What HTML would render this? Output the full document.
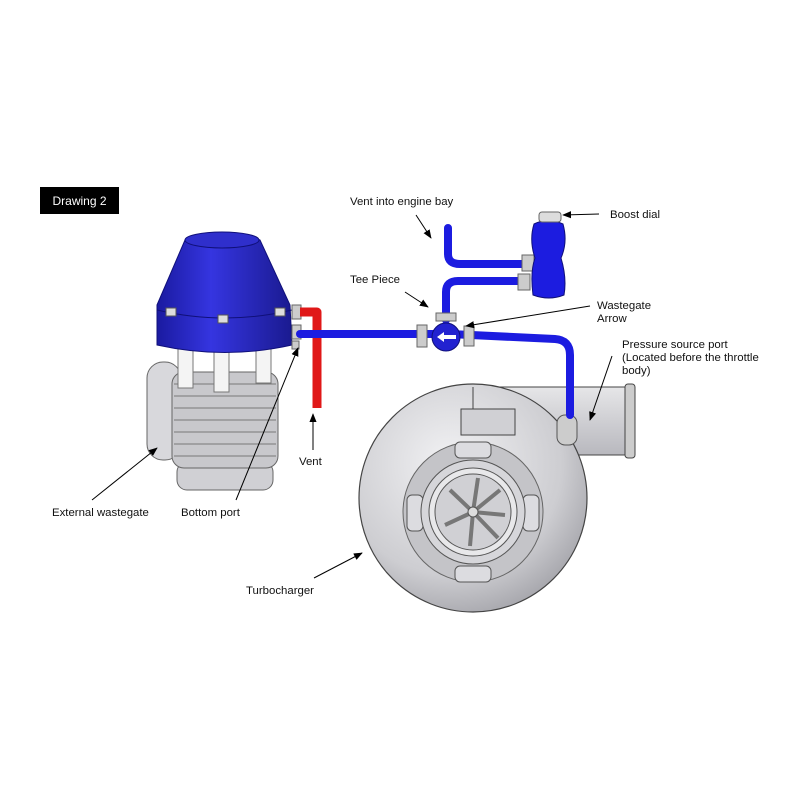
<!DOCTYPE html>
<html><head><meta charset="utf-8"><style>
html,body{margin:0;padding:0;background:#fff;}
svg{display:block;}
text{font-family:"Liberation Sans",Arial,sans-serif;font-size:11.4px;fill:#111;}
</style></head><body>
<svg width="800" height="800" viewBox="0 0 800 800" xmlns="http://www.w3.org/2000/svg">
<defs>
<radialGradient id="turbo" cx="0.4" cy="0.35" r="0.7">
<stop offset="0" stop-color="#f2f2f4"/><stop offset="0.7" stop-color="#cdcdd1"/><stop offset="1" stop-color="#a4a4aa"/>
</radialGradient>
<linearGradient id="blueg" x1="0" x2="1"><stop offset="0" stop-color="#1a1aa0"/><stop offset="0.4" stop-color="#3535e0"/><stop offset="1" stop-color="#1a1a90"/></linearGradient>
<linearGradient id="tube" x1="0" y1="0" x2="0" y2="1"><stop offset="0" stop-color="#e6e6e8"/><stop offset="1" stop-color="#b8b8be"/></linearGradient>
<marker id="ar" viewBox="0 0 10 10" refX="9" refY="5" markerWidth="9" markerHeight="9" orient="auto"><path d="M0,1 L10,5 L0,9 z" fill="#000"/></marker>
</defs>

<rect x="40" y="187" width="79" height="27" fill="#000"/>
<text x="79.5" y="205" text-anchor="middle" style="fill:#fff;font-size:12px">Drawing 2</text>

<rect x="470" y="387" width="160" height="68" fill="url(#tube)" stroke="#444" stroke-width="1"/>
<rect x="625" y="384" width="10" height="74" rx="3" fill="#ccc" stroke="#444"/>
<circle cx="473" cy="498" r="114" fill="url(#turbo)" stroke="#444" stroke-width="1.2"/>
<rect x="461" y="409" width="54" height="26" fill="#d0d0d4" stroke="#444"/>
<line x1="473" y1="387" x2="473" y2="409" stroke="#444"/>
<circle cx="473" cy="512" r="70" fill="#c4c4c8" stroke="#666"/>
<g fill="#dcdce0" stroke="#555">
<rect x="455" y="442" width="36" height="16" rx="5"/>
<rect x="455" y="566" width="36" height="16" rx="5"/>
<rect x="407" y="495" width="16" height="36" rx="5"/>
<rect x="523" y="495" width="16" height="36" rx="5"/>
</g>
<circle cx="473" cy="512" r="52" fill="#d6d6da" stroke="#555"/>
<circle cx="473" cy="512" r="44" fill="#e8e8ea" stroke="#555"/>
<circle cx="473" cy="512" r="38" fill="#d0d0d4" stroke="#555"/>
<g stroke="#777" stroke-width="4">
<line x1="473" y1="512" x2="500" y2="490"/><line x1="473" y1="512" x2="505" y2="515"/>
<line x1="473" y1="512" x2="450" y2="490"/><line x1="473" y1="512" x2="445" y2="525"/>
<line x1="473" y1="512" x2="478" y2="478"/><line x1="473" y1="512" x2="470" y2="546"/>
<line x1="473" y1="512" x2="498" y2="538"/>
</g>
<circle cx="473" cy="512" r="5" fill="#ddd" stroke="#555"/>
<rect x="557" y="415" width="20" height="30" rx="8" fill="#ccc" stroke="#555"/>

<!-- Wastegate -->
<rect x="147" y="362" width="34" height="98" rx="16" fill="#d8d8dc" stroke="#666"/>
<rect x="177" y="462" width="96" height="28" rx="10" fill="#d0d0d4" stroke="#666"/>
<rect x="172" y="372" width="106" height="96" rx="12" fill="#c8c8cc" stroke="#666"/>
<g stroke="#777" fill="none">
<path d="M174,384 H276 M174,396 H276 M174,408 H276 M174,420 H276 M174,432 H276 M174,444 H276 M174,456 H276"/>
</g>
<g fill="#f4f4f4" stroke="#777">
<rect x="178" y="348" width="15" height="40"/><rect x="214" y="352" width="15" height="40"/><rect x="256" y="348" width="15" height="35"/>
</g>
<path d="M157,305 L185,240 Q222,225 260,240 L290,305 L292,345 Q225,360 157,345 Z" fill="url(#blueg)" stroke="#10107a"/>
<path d="M157,310 Q225,326 292,310" fill="none" stroke="#10107a"/>
<ellipse cx="222" cy="240" rx="37" ry="8" fill="#2f2fcc" stroke="#10107a"/>
<g fill="#ddd" stroke="#555"><rect x="166" y="308" width="10" height="8"/><rect x="218" y="315" width="10" height="8"/><rect x="275" y="308" width="10" height="8"/></g>
<rect x="292" y="305" width="9" height="14" fill="#ccc" stroke="#666"/>
<rect x="292" y="325" width="9" height="14" fill="#ccc" stroke="#666"/>
<rect x="292" y="341" width="7" height="8" fill="#ccc" stroke="#666"/>

<path d="M300,312 H317 V408" fill="none" stroke="#e01818" stroke-width="9" stroke-linejoin="round"/>

<g fill="none" stroke="#1c1ce0" stroke-width="8" stroke-linecap="round" stroke-linejoin="round">
<path d="M300,334 H440"/>
<path d="M450,334 L555,339 Q570,340 570,355 V415"/>
<path d="M446,320 V292 Q446,281 458,281 H522"/>
<path d="M448,228 V254 Q448,264 460,264 H522"/>
</g>
<circle cx="446" cy="337" r="14" fill="#2222d0" stroke="#10107a"/>
<path d="M437,337 l7,-5 v3 h12 v4 h-12 v3 z" fill="#fff"/>
<rect x="436" y="313" width="20" height="8" fill="#ccc" stroke="#666"/>
<rect x="417" y="325" width="10" height="22" fill="#ccc" stroke="#666"/>
<rect x="464" y="326" width="10" height="20" fill="#ccc" stroke="#666"/>
<rect x="522" y="255" width="12" height="16" fill="#ccc" stroke="#666"/>
<rect x="518" y="274" width="12" height="16" fill="#ccc" stroke="#666"/>
<path d="M534,224 Q548,217 563,224 Q568,242 561,258 Q567,278 564,295 Q549,301 533,295 Q530,272 535,258 Q529,240 534,224 Z" fill="#1c1ce0" stroke="#10107a"/>
<rect x="539" y="212" width="22" height="10" rx="3" fill="#ddd" stroke="#666"/>

<g stroke="#000" stroke-width="1" marker-end="url(#ar)">
<line x1="416" y1="215" x2="431" y2="238"/>
<line x1="599" y1="214" x2="563" y2="215"/>
<line x1="405" y1="292" x2="428" y2="307"/>
<line x1="590" y1="306" x2="466" y2="326"/>
<line x1="612" y1="356" x2="590" y2="420"/>
<line x1="313" y1="450" x2="313" y2="414"/>
<line x1="92" y1="500" x2="157" y2="448"/>
<line x1="236" y1="500" x2="298" y2="348"/>
<line x1="314" y1="578" x2="362" y2="553"/>
</g>

<text x="350" y="205">Vent into engine bay</text>
<text x="610" y="218">Boost dial</text>
<text x="350" y="283">Tee Piece</text>
<text x="597" y="309">Wastegate</text>
<text x="597" y="322">Arrow</text>
<text x="622" y="348">Pressure source port</text>
<text x="622" y="361">(Located before the throttle</text>
<text x="622" y="374">body)</text>
<text x="299" y="465">Vent</text>
<text x="52" y="516">External wastegate</text>
<text x="181" y="516">Bottom port</text>
<text x="246" y="594">Turbocharger</text>
</svg>
</body></html>
